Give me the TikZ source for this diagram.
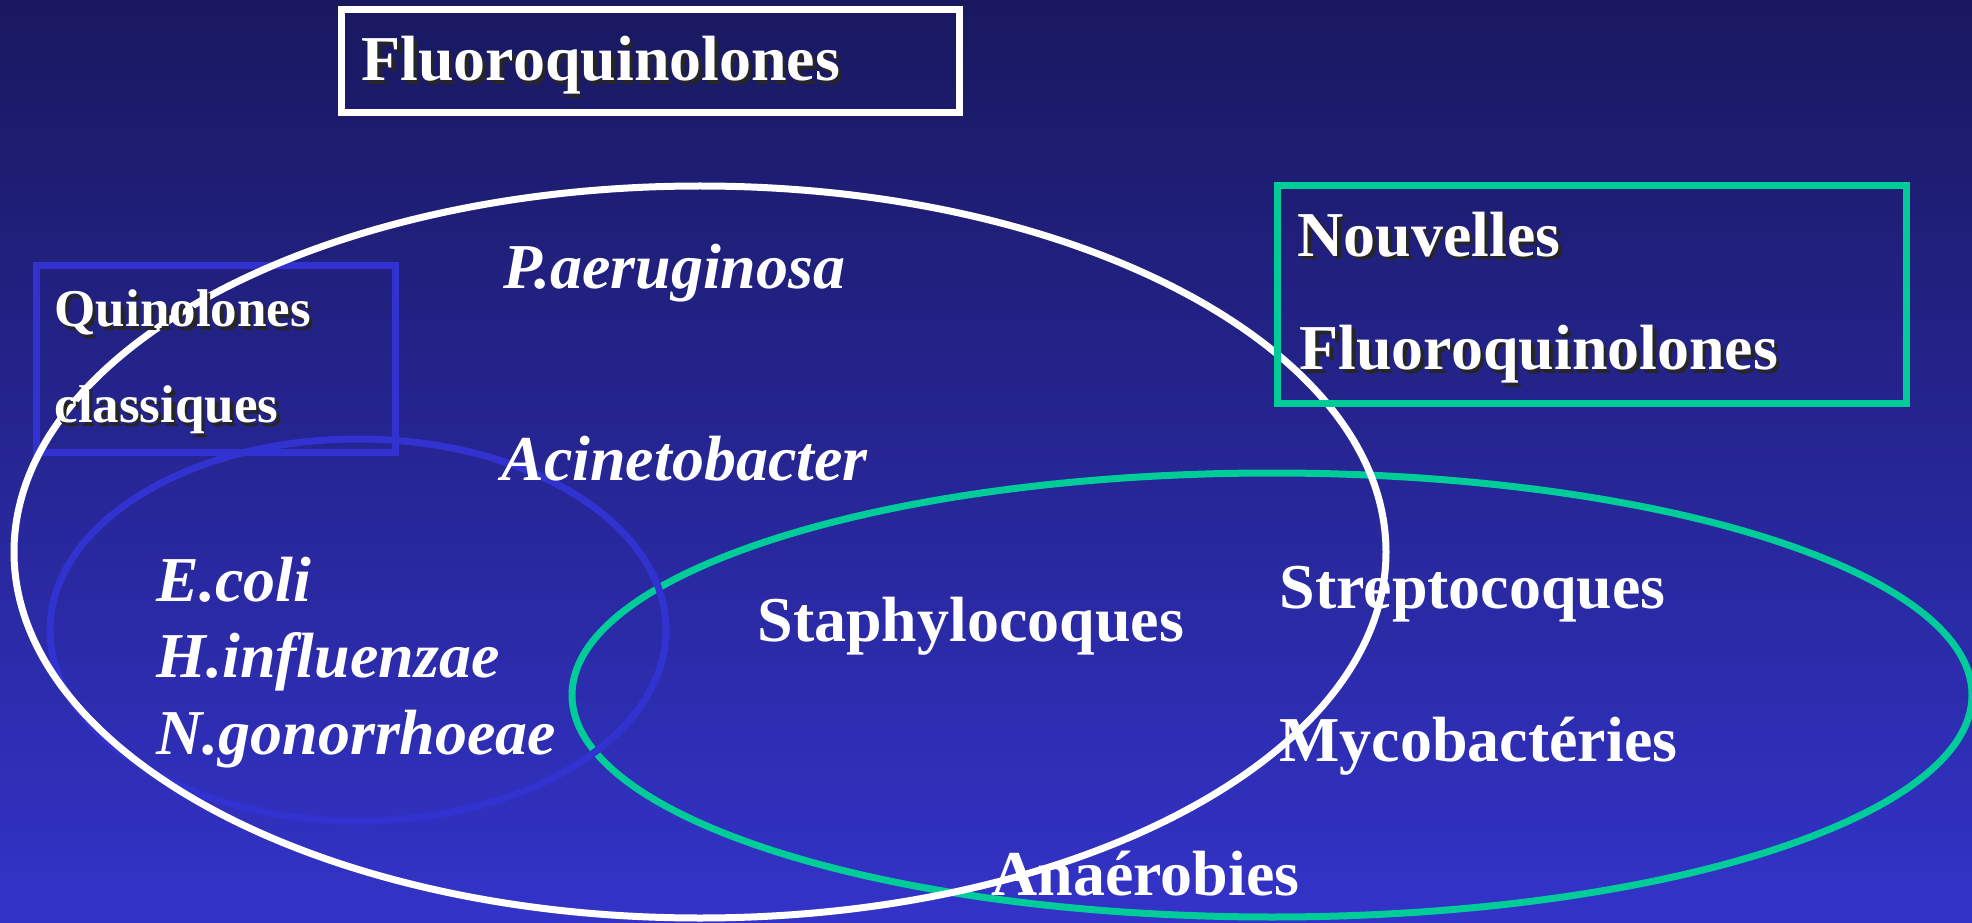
\documentclass[tikz,border=0pt]{standalone}
\usepackage{fontspec}
\setmainfont{Liberation Serif}
\usetikzlibrary{positioning}

\definecolor{bgtop}{RGB}{25,24,95}
\definecolor{bgbot}{RGB}{51,51,201}
\definecolor{fqteal}{RGB}{0,204,153}
\definecolor{qblue}{RGB}{50,50,208}

% white text with a dark drop shadow
\newcommand{\shadowed}[1]{\rlap{\kern0.35mm\raisebox{-0.35mm}{\color{black!85}#1}}#1}

\begin{document}
\begin{tikzpicture}[
    x=0.1mm, y=-0.1mm, line width=0.7mm,
    lbl/.style={anchor=base west, inner sep=0pt, text=white,
                font=\fontsize{18.2}{20}\selectfont\bfseries},
    germ/.style={lbl, font=\fontsize{18.2}{20}\selectfont\bfseries\itshape},
    small/.style={lbl, font=\fontsize{15.1}{17}\selectfont\bfseries}
  ]
  % background
  \useasboundingbox (0,0) rectangle (1972,923);
  \shade[top color=bgtop, bottom color=bgbot] (0,0) rectangle (1972,923);

  % sets
  \draw[fqteal] (1272,695) ellipse [x radius=700, y radius=222];
  \draw[qblue] (358,630) ellipse [x radius=308, y radius=191];
  \draw[qblue] (36,266) rectangle (395,452);
  \draw[white] (700,552) ellipse [x radius=686, y radius=366];

  % titles
  \draw[white] (341,10) rectangle (959,113);
  \node[lbl] (fq) at (358,81) {\shadowed{Fluoroquinolones}};

  \node[small] (qc1) at (51,327) {\shadowed{Quinolones}};
  \node[small] (qc2) at (51,423) {\shadowed{classiques}};

  \draw[fqteal] (1277,186) rectangle (1906,403);
  \node[lbl] (nfq1) at (1294,256) {\shadowed{Nouvelles}};
  \node[lbl] (nfq2) at (1296,370) {\shadowed{Fluoroquinolones}};

  % germs
  \node[germ] (pae) at (500,288) {P.aeruginosa};
  \node[germ] (aci) at (498,480) {Acinetobacter};
  \node[germ] (eco) at (153,601) {E.coli};
  \node[germ] (hin) at (153,677) {H.influenzae};
  \node[germ] (ngo) at (153,754) {N.gonorrhoeae};
  \node[lbl] (sta) at (754,641) {Staphylocoques};
  \node[lbl] (str) at (1276,608) {Streptocoques};
  \node[lbl] (myc) at (1276,761) {Mycobactéries};
  \node[lbl] (ana) at (988,895) {Anaérobies};
\end{tikzpicture}
\end{document}
